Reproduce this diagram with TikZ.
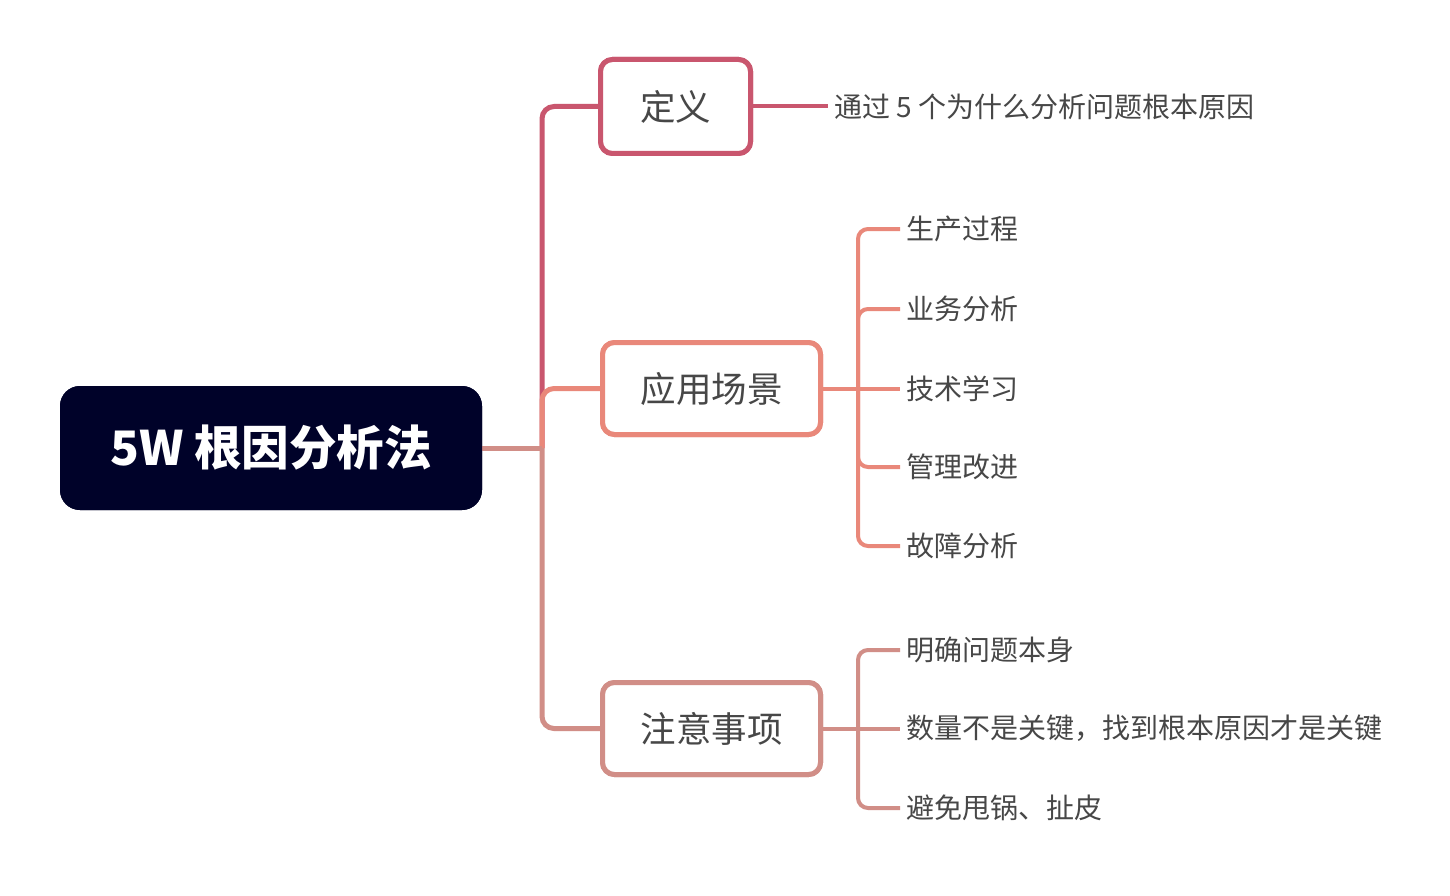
\documentclass[tikz,border=0pt]{standalone}
\usepackage{fontspec}
\setmainfont{Noto Sans CJK SC}
\definecolor{rootfill}{HTML}{000229}
\definecolor{cdef}{HTML}{C9566E}
\definecolor{capp}{HTML}{E9887A}
\definecolor{cnote}{HTML}{D18E87}
\definecolor{txt}{HTML}{474747}
\begin{document}
\begin{tikzpicture}[x=1pt,y=-1pt,
  rootbox/.style={fill=rootfill,rounded corners=20pt,minimum width=422pt,minimum height=124pt,
    text=white,font=\fontsize{47.5}{52}\selectfont\bfseries,inner sep=0pt},
  topicbox/.style={draw=#1,line width=5pt,rounded corners=12pt,fill=white,minimum height=92pt,
    text=txt,font=\fontsize{35.5}{40}\selectfont,inner sep=0pt},
  leaf/.style={anchor=west,text=txt,font=\fontsize{28}{32}\selectfont,inner xsep=6pt,inner ysep=0pt},
  trunk/.style={draw=#1,line width=5pt,rounded corners=12pt},
  twig/.style={draw=#1,line width=4pt,rounded corners=10pt}]
\useasboundingbox (0,0) rectangle (1450,896);
\fill[white] (0,0) rectangle (1450,896);
% nodes
\node[rootbox] (root) at (271,448) {5W 根因分析法};
\coordinate (tr) at (542,448);
\node[topicbox=cdef,minimum width=150pt,minimum height=94pt] (def) at (675.5,106.5) {定义};
\node[topicbox=capp,minimum width=218pt] (app) at (711.5,388.5) {应用场景};
\node[topicbox=cnote,minimum width=218pt] (note) at (711.5,728.5) {注意事项};
\node[leaf] (defd) at (828,106.5) {通过 5 个为什么分析问题根本原因};
\node[leaf] (a1) at (900,229) {生产过程};
\node[leaf] (a2) at (900,309) {业务分析};
\node[leaf] (a3) at (900,388.5) {技术学习};
\node[leaf] (a4) at (900,467) {管理改进};
\node[leaf] (a5) at (900,546) {故障分析};
\node[leaf] (n1) at (900,650) {明确问题本身};
\node[leaf] (n2) at (900,728.5) {数量不是关键，找到根本原因才是关键};
\node[leaf] (n3) at (900,808) {避免甩锅、扯皮};
\coordinate (abr) at (858,388.5);
\coordinate (nbr) at (858,728.5);
% connectors
\draw[trunk=cdef] (tr) |- (def.west);
\draw[trunk=capp] (tr) |- (app.west);
\draw[trunk=cnote] (tr) |- (note.west);
\draw[trunk=cnote,rounded corners=0pt] (root.east) -- (tr);
\draw[trunk=cdef,line width=4pt] (def.east) -- (defd.west);
\draw[twig=capp] (app.east) -- (a3.west);
\foreach \c in {a1,a2,a4,a5} \draw[twig=capp] (abr) |- (\c.west);
\draw[twig=cnote] (note.east) -- (n2.west);
\foreach \c in {n1,n3} \draw[twig=cnote] (nbr) |- (\c.west);
% redraw boxes on top of connectors
\node[topicbox=cdef,minimum width=150pt,minimum height=94pt] at (def) {定义};
\node[topicbox=capp,minimum width=218pt] at (app) {应用场景};
\node[topicbox=cnote,minimum width=218pt] at (note) {注意事项};
\node[rootbox] at (root) {5W 根因分析法};
\end{tikzpicture}
\end{document}
